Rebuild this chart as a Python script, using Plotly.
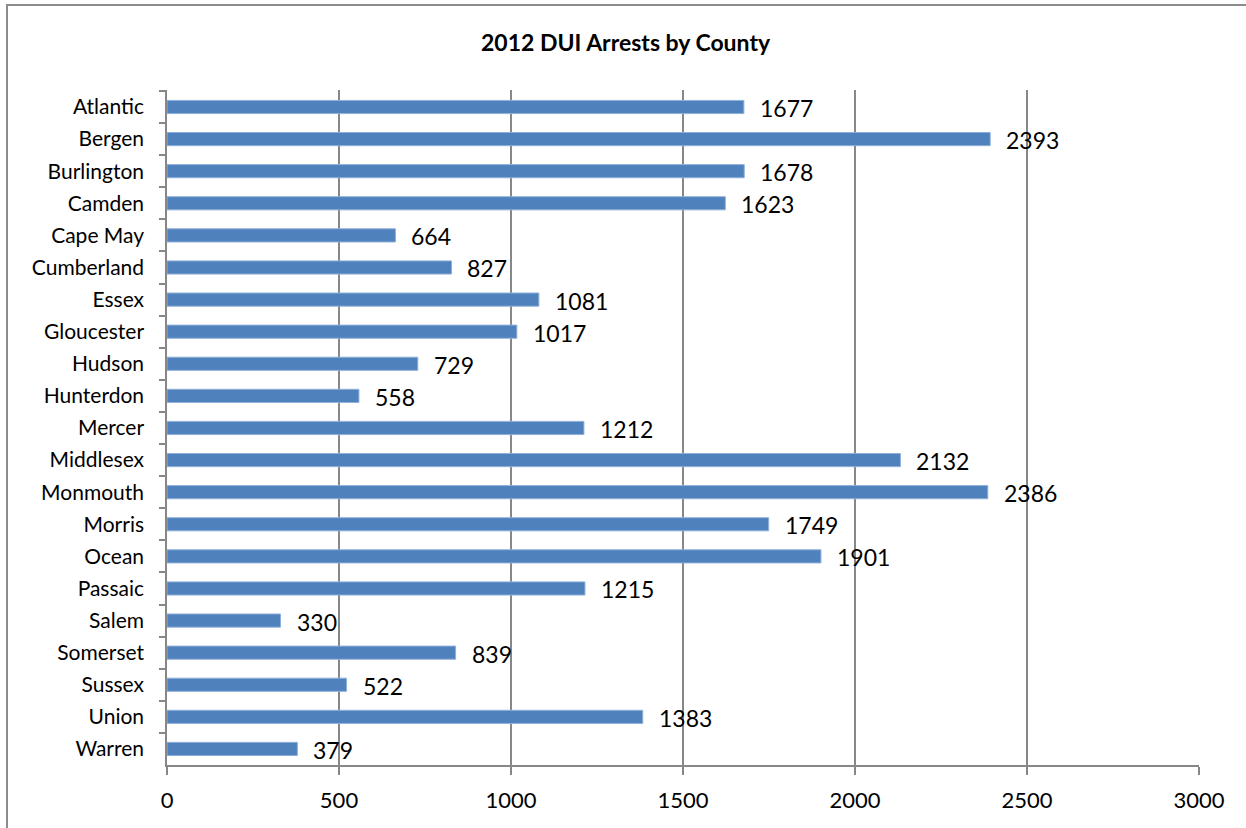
import plotly.graph_objects as go

counties = ["Atlantic", "Bergen", "Burlington", "Camden", "Cape May", "Cumberland",
            "Essex", "Gloucester", "Hudson", "Hunterdon", "Mercer", "Middlesex",
            "Monmouth", "Morris", "Ocean", "Passaic", "Salem", "Somerset",
            "Sussex", "Union", "Warren"]
arrests = [1677, 2393, 1678, 1623, 664, 827, 1081, 1017, 729, 558, 1212, 2132,
           2386, 1749, 1901, 1215, 330, 839, 522, 1383, 379]
x_ticks = [0, 500, 1000, 1500, 2000, 2500, 3000]

W, H = 1246, 828
L, R, T, B = 167, 47, 90, 63
pw, ph = W - L - R, H - T - B

def px_x(p):
    return (p - L) / pw

def px_y(p):
    return (H - B - p) / ph

FONT = "Lato"
BAR = "#4F81BD"
GRID = "#878787"

fig = go.Figure()
fig.add_trace(go.Bar(
    x=arrests, y=counties, orientation="h",
    marker=dict(color=BAR, line=dict(color="#8FB0DA", width=1)),
    hoverinfo="x+y",
))

annotations = []
for c, v in zip(counties, arrests):
    annotations.append(dict(
        x=v, y=c, xref="x", yref="y", text=str(v), showarrow=False,
        xanchor="left", yanchor="middle", xshift=14, yshift=-1,
        font=dict(family=FONT, size=23, color="#000000"),
    ))

annotations.append(dict(
    x=px_x(626), y=px_y(42), xref="paper", yref="paper",
    text="<b>2012 DUI Arrests by County</b>", showarrow=False,
    xanchor="center", yanchor="middle",
    font=dict(family=FONT, size=23, color="#000000"),
))

fig.update_layout(
    width=W, height=H,
    margin=dict(l=L, r=R, t=T, b=B, autoexpand=False),
    paper_bgcolor="#FFFFFF", plot_bgcolor="#FFFFFF",
    bargap=0.59,
    showlegend=False,
    annotations=annotations,
    shapes=[dict(
        type="rect", xref="paper", yref="paper",
        x0=px_x(7), x1=px_x(1262), y0=px_y(5), y1=px_y(850),
        line=dict(color="#8C8C8C", width=2), layer="below",
    )],
    xaxis=dict(
        range=[0, 3000], tickvals=x_ticks, ticktext=[str(t) for t in x_ticks],
        showgrid=True, gridcolor=GRID, gridwidth=1.5,
        showline=True, linecolor=GRID, linewidth=1.5,
        ticks="outside", ticklen=8, tickcolor=GRID, tickwidth=1.5,
        tickfont=dict(family=FONT, size=22, color="#000000"),
        ticklabelstandoff=7, zeroline=False, fixedrange=True,
    ),
    yaxis=dict(
        autorange="reversed", type="category",
        showgrid=False, showline=True, linecolor=GRID, linewidth=1.5,
        ticks="outside", ticklen=6, tickcolor=GRID, tickwidth=1.5,
        tickson="boundaries",
        tickfont=dict(family=FONT, size=21, color="#000000"),
        ticklabelstandoff=17, fixedrange=True,
    ),
)

fig.write_html("out.html")
